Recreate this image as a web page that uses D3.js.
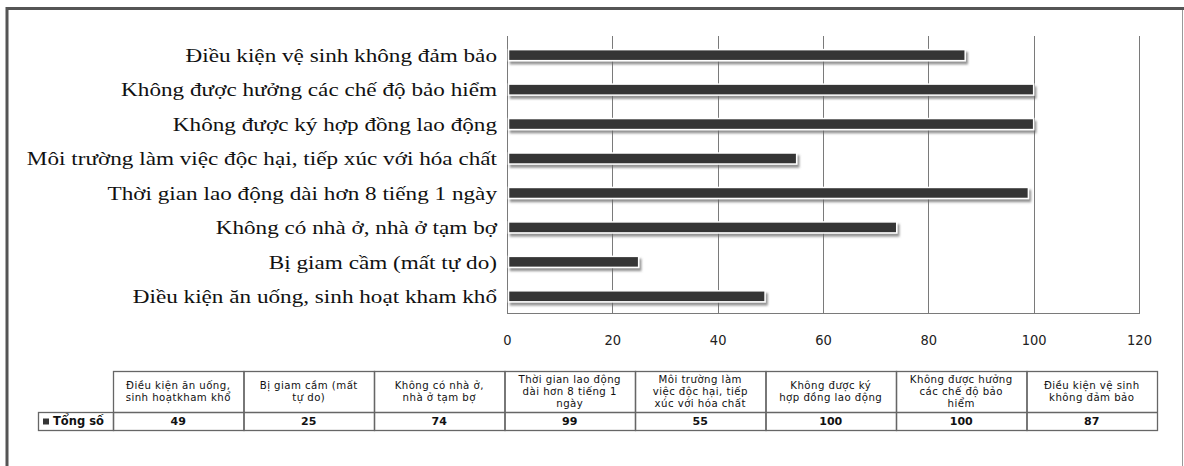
<!DOCTYPE html>
<html>
<head>
<meta charset="utf-8">
<script src="https://cdn.jsdelivr.net/npm/d3@7"></script>
<style>
  html, body { margin: 0; padding: 0; background: #fff; }
  svg { display: block; }
</style>
</head>
<body>
<svg id="chart" width="1184" height="466"></svg>
<script>
// Categories in table order (bottom bar first)
const categories = [
  "Điều kiện ăn uống, sinh hoạt kham khổ",
  "Bị giam cầm (mất tự do)",
  "Không có nhà ở, nhà ở tạm bợ",
  "Thời gian lao động dài hơn 8 tiếng 1 ngày",
  "Môi trường làm việc độc hại, tiếp xúc với hóa chất",
  "Không được ký hợp đồng lao động",
  "Không được hưởng các chế độ bảo hiểm",
  "Điều kiện vệ sinh không đảm bảo"
];
const totals = [49, 25, 74, 99, 55, 100, 100, 87];
const tickValues = [0, 20, 40, 60, 80, 100, 120];
const seriesName = "Tổng số";
// Wrapped header text for the data table
const headerLines = [
  ["Điều kiện ăn uống,", "sinh hoạtkham khổ"],
  ["Bị giam cầm (mất", "tự do)"],
  ["Không có nhà ở,", "nhà ở tạm bợ"],
  ["Thời gian lao động", "dài hơn 8 tiếng 1", "ngày"],
  ["Môi trường làm", "việc độc hại, tiếp", "xúc với hóa chất"],
  ["Không được ký", "hợp đồng lao động"],
  ["Không được hưởng", "các chế độ bảo", "hiểm"],
  ["Điều kiện vệ sinh", "không đảm bảo"]
];

const svg = d3.select("#chart");

// Frame of the chart area
svg.append("line").attr("x1", 7).attr("x2", 1184).attr("y1", 8.5).attr("y2", 8.5)
  .attr("stroke", "#555").attr("stroke-width", 3);
svg.append("line").attr("x1", 7).attr("x2", 7).attr("y1", 7).attr("y2", 466)
  .attr("stroke", "#555").attr("stroke-width", 3);
svg.append("line").attr("x1", 1182.5).attr("x2", 1182.5).attr("y1", 10).attr("y2", 466)
  .attr("stroke", "#999").attr("stroke-width", 1);

// Drop shadow for bars
const defs = svg.append("defs");
const f = defs.append("filter").attr("id", "barShadow")
  .attr("x", "-5%").attr("y", "-50%").attr("width", "110%").attr("height", "220%");
f.append("feDropShadow").attr("dx", 2).attr("dy", 3).attr("stdDeviation", 1.3)
  .attr("flood-color", "#666").attr("flood-opacity", 0.7);

const plot = { left: 507, right: 1139, top: 36, bottom: 313 };

const x = d3.scaleLinear().domain([0, 120]).range([plot.left, plot.right]);
const y = d3.scaleBand()
  .domain(categories.slice().reverse())
  .range([plot.top, plot.bottom])
  .paddingInner(0.68)
  .paddingOuter(0.36)
  .align(0.55);

// Vertical gridlines
svg.append("g").selectAll("line")
  .data(tickValues.filter(d => d > 0))
  .join("line")
  .attr("x1", d => Math.round(x(d)) + 0.5).attr("x2", d => Math.round(x(d)) + 0.5)
  .attr("y1", plot.top).attr("y2", plot.bottom)
  .attr("stroke", "#7a7a7a").attr("stroke-width", 1);

// Axis lines
svg.append("line").attr("x1", plot.left + 0.5).attr("x2", plot.left + 0.5)
  .attr("y1", plot.top).attr("y2", plot.bottom + 0.5)
  .attr("stroke", "#7a7a7a");
svg.append("line").attr("x1", plot.left).attr("x2", plot.right + 1)
  .attr("y1", plot.bottom + 0.5).attr("y2", plot.bottom + 0.5)
  .attr("stroke", "#7a7a7a");

// X tick labels
const xAxis = d3.axisBottom(x).tickValues(tickValues).tickSize(0).tickPadding(0);
const gx = svg.append("g").attr("transform", `translate(0, ${plot.bottom + 22})`).call(xAxis);
gx.select(".domain").remove();
gx.selectAll("text")
  .attr("font-family", "'DejaVu Sans Condensed', 'DejaVu Sans', sans-serif")
  .attr("font-size", 14.5)
  .attr("fill", "#222")
  .attr("dy", "0.71em");

// Bars
svg.append("g").selectAll("rect")
  .data(categories.map((c, i) => ({ c, v: totals[i] })))
  .join("rect")
  .attr("x", x(0) + 1.5)
  .attr("y", d => y(d.c))
  .attr("width", d => x(d.v) - x(0) - 1.5)
  .attr("height", y.bandwidth())
  .attr("fill", "#363636")
  .attr("stroke", "#fff")
  .attr("stroke-width", 1.5)
  .attr("filter", "url(#barShadow)");

// Category labels (wide serif face, stretched horizontally)
svg.append("g").selectAll("text")
  .data(categories)
  .join("text")
  .attr("transform", d => `translate(497, ${y(d) + y.bandwidth() / 2}) scale(1.22, 1)`)
  .attr("dy", "0.35em")
  .attr("text-anchor", "end")
  .attr("font-family", "'Liberation Serif', serif")
  .attr("font-size", 19)
  .attr("fill", "#111")
  .text(d => d);

// Data table
const table = { left: 113, colW: 130.5, top: 371, headH: 41, rowH: 18, legendLeft: 38 };
const tg = svg.append("g");
const tStroke = "#666";
const colX = i => table.left + i * table.colW;
const rowTop = table.top + table.headH;

// Header cells
categories.forEach((c, i) => {
  tg.append("rect").attr("x", colX(i) + 0.5).attr("y", table.top + 0.5)
    .attr("width", table.colW).attr("height", table.headH + table.rowH)
    .attr("fill", "none").attr("stroke", tStroke).attr("stroke-width", 1.3);
  const lines = headerLines[i];
  const lh = 12;
  const startY = table.top + table.headH / 2 - (lines.length - 1) * lh / 2;
  lines.forEach((ln, k) => {
    tg.append("text")
      .attr("x", colX(i) + table.colW / 2)
      .attr("y", startY + k * lh)
      .attr("dy", "0.35em")
      .attr("text-anchor", "middle")
      .attr("font-family", "'DejaVu Sans', sans-serif")
      .attr("font-size", 10.2)
      .attr("letter-spacing", 0.45)
      .attr("fill", "#111")
      .text(ln);
  });
  tg.append("text")
    .attr("x", colX(i) + table.colW / 2)
    .attr("y", rowTop + table.rowH / 2)
    .attr("dy", "0.35em")
    .attr("text-anchor", "middle")
    .attr("font-family", "'DejaVu Sans', sans-serif")
    .attr("font-size", 11)
    .attr("font-weight", "bold")
    .attr("fill", "#111")
    .text(totals[i]);
});
// Header / value divider
tg.append("line").attr("x1", table.left).attr("x2", colX(categories.length) + 0.5)
  .attr("y1", rowTop + 0.5).attr("y2", rowTop + 0.5).attr("stroke", tStroke).attr("stroke-width", 1.3);
// Legend cell
tg.append("rect").attr("x", table.legendLeft + 0.5).attr("y", rowTop + 0.5)
  .attr("width", table.left - table.legendLeft).attr("height", table.rowH)
  .attr("fill", "none").attr("stroke", tStroke).attr("stroke-width", 1.3);
tg.append("rect").attr("x", table.legendLeft + 5).attr("y", rowTop + table.rowH / 2 - 2.5)
  .attr("width", 6).attr("height", 6).attr("fill", "#363636");
tg.append("text")
  .attr("x", table.legendLeft + 15)
  .attr("y", rowTop + table.rowH / 2)
  .attr("dy", "0.35em")
  .attr("font-family", "'DejaVu Sans', sans-serif")
  .attr("font-size", 11.5)
  .attr("font-weight", "bold")
  .attr("fill", "#111")
  .text(seriesName);
</script>
</body>
</html>
